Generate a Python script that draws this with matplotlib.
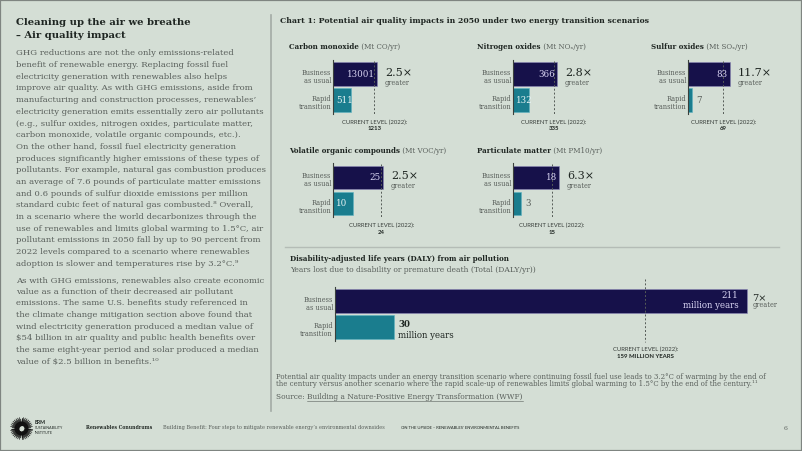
import numpy as np
import matplotlib
matplotlib.use('Agg')
import matplotlib.pyplot as plt
from matplotlib.patches import Rectangle, Circle

# ---- chart data ----
pollutants = ['Carbon monoxide', 'Nitrogen oxides', 'Sulfur oxides',
              'Volatile organic compounds', 'Particulate matter']
units = ['(Mt CO/yr)', '(Mt NOₓ/yr)', '(Mt SOₓ/yr)', '(Mt VOC/yr)', '(Mt PM10/yr)']
business_as_usual = [1301, 366, 83, 25, 18]
bau_labels = ['13001', '366', '83', '25', '18']  # as printed on the slide
rapid_transition = [511, 132, 7, 10, 3]
current_2022 = [1213, 335, 69, 24, 15]
ratios = ['2.5×', '2.8×', '11.7×', '2.5×', '6.3×']
scenarios = ['Business\nas usual', 'Rapid\ntransition']

daly_bau = 211
daly_rapid = 30
daly_current = 159
daly_ratio = '7×'

body_par1 = [
    'GHG reductions are not the only emissions-related',
    'benefit of renewable energy. Replacing fossil fuel',
    'electricity generation with renewables also helps',
    'improve air quality. As with GHG emissions, aside from',
    'manufacturing and construction processes, renewables’',
    'electricity generation emits essentially zero air pollutants',
    '(e.g., sulfur oxides, nitrogen oxides, particulate matter,',
    'carbon monoxide, volatile organic compounds, etc.).',
    'On the other hand, fossil fuel electricity generation',
    'produces significantly higher emissions of these types of',
    'pollutants. For example, natural gas combustion produces',
    'an average of 7.6 pounds of particulate matter emissions',
    'and 0.6 pounds of sulfur dioxide emissions per million',
    'standard cubic feet of natural gas combusted.⁸ Overall,',
    'in a scenario where the world decarbonizes through the',
    'use of renewables and limits global warming to 1.5°C, air',
    'pollutant emissions in 2050 fall by up to 90 percent from',
    '2022 levels compared to a scenario where renewables',
    'adoption is slower and temperatures rise by 3.2°C.⁹',
]
body_par2 = [
    'As with GHG emissions, renewables also create economic',
    'value as a function of their decreased air pollutant',
    'emissions. The same U.S. benefits study referenced in',
    'the climate change mitigation section above found that',
    'wind electricity generation produced a median value of',
    '$54 billion in air quality and public health benefits over',
    'the same eight-year period and solar produced a median',
    'value of $2.5 billion in benefits.¹⁰',
]

BG = '#d4ded5'
NAVY = '#16114a'
TEAL = '#1a7d8e'
DARK = '#1f2622'
GREY = '#595f5b'
SERIF = 'DejaVu Serif'
SANS = 'Lato'

W, H = 802, 451
fig = plt.figure(figsize=(W / 100, H / 100), dpi=100)
fig.patch.set_facecolor(BG)
renderer = fig.canvas.get_renderer()


def fx(x):
    return x / W


def fy(y):
    return 1 - y / H


def text(x, y, s, size, color=DARK, ha='left', weight='normal', family=SERIF):
    return fig.text(fx(x), fy(y), s, fontsize=size, color=color, ha=ha, va='center',
                    fontweight=weight, family=family)


def width_of(t):
    return t.get_window_extent(renderer).width


def fit(s, target, weight='normal', family=SERIF):
    # font size that makes s about target px wide
    t = fig.text(0, 0, s, fontsize=10, fontweight=weight, family=family)
    w = width_of(t)
    t.remove()
    return 10 * target / w


def hline(x0, x1, y, color, lw):
    fig.add_artist(plt.Line2D([fx(x0), fx(x1)], [fy(y), fy(y)], color=color, lw=lw))


def vline(x, y0, y1, color, lw):
    fig.add_artist(plt.Line2D([fx(x), fx(x)], [fy(y0), fy(y1)], color=color, lw=lw))


# frame + dividers
fig.add_artist(Rectangle((0, 0), 1, 1, transform=fig.transFigure, fill=False,
                         edgecolor='#7f8581', lw=1.6))
vline(270.5, 15, 411, '#a3aba5', 1.2)
hline(285, 779, 247, '#b4bcb6', 1.0)

# ---- left column ----
s_title = fit('Cleaning up the air we breathe', 175, weight='bold')
text(16, 22.7, 'Cleaning up the air we breathe', s_title, weight='bold')
text(16, 35, '– Air quality impact', s_title, weight='bold')

s_body = fit(body_par1[5], 249)
for i, line in enumerate(body_par1):
    text(16, 53.3 + 11.7 * i, line, s_body, color=GREY)
for i, line in enumerate(body_par2):
    text(16, 280 + 11.7 * i, line, s_body, color=GREY)

# ---- chart header ----
chart_title = 'Chart 1: Potential air quality impacts in 2050 under two energy transition scenarios'
text(280, 21, chart_title, fit(chart_title, 367, weight='bold'), weight='bold')

s_panel = fit('Carbon monoxide', 70, weight='bold')
s_val = 6.3
s_ratio = 8.0
s_small = 4.7
s_cur = fit('CURRENT LEVEL (2022):', 66, family=SANS)


def title_pair(x, y, bold, rest, size):
    t = text(x, y, bold, size, weight='bold')
    text(x + width_of(t), y, ' ' + rest, size, color=GREY)


def scenario_labels(ax, ys):
    for yc, lab in zip(ys, scenarios):
        first, second = lab.split('\n')
        ax.annotate(first, (0, yc), xytext=(-2, 1), textcoords='offset pixels',
                    ha='right', va='center', fontsize=s_small, color=GREY, family=SERIF)
        ax.annotate(second, (0, yc), xytext=(-2, -7), textcoords='offset pixels',
                    ha='right', va='center', fontsize=s_small, color=GREY, family=SERIF)


def setup_axes(x0, top, axw, xmax):
    ax = fig.add_axes([fx(x0), fy(top + 52), axw / W, 54 / H])
    ax.set_xlim(0, xmax)
    ax.set_ylim(1.538, -0.538)
    ax.patch.set_visible(False)
    for side in ['top', 'right', 'bottom']:
        ax.spines[side].set_visible(False)
    ax.spines['left'].set_color('#3a403c')
    ax.spines['left'].set_linewidth(0.8)
    ax.set_xticks([])
    ax.set_yticks([])
    return ax


def bar_panel(i, x0, top, bau_px):
    bau, rap, cur = business_as_usual[i], rapid_transition[i], current_2022[i]
    axw = 80
    scale = bau_px / bau  # px per unit
    ax = setup_axes(x0, top, axw, axw / scale)
    ax.barh([0, 1], [bau, rap], height=0.92, color=[NAVY, TEAL],
            edgecolor=['#8c88b8', '#5fb4c2'], linewidth=0.4)
    ax.plot([cur, cur], [-0.5, 1.57], ls=(0, (2, 2)), color='#555b57', lw=0.7, clip_on=False)

    ax.annotate(bau_labels[i], (bau, 0), xytext=(-2.5, 0), textcoords='offset pixels',
                ha='right', va='center', fontsize=s_val, color='#d8d4f2', family=SERIF)
    if rap * scale > 14:
        ax.annotate(str(rap), (0, 1), xytext=(2.5, 0), textcoords='offset pixels',
                    ha='left', va='center', fontsize=s_val, color='#e6f3f3', family=SERIF)
    else:
        ax.annotate(str(rap), (rap, 1), xytext=(4, 0), textcoords='offset pixels',
                    ha='left', va='center', fontsize=s_val, color=GREY, family=SERIF)

    ax.annotate(ratios[i], (bau, 0), xytext=(7.5, 1.5), textcoords='offset pixels',
                ha='left', va='center', fontsize=s_ratio, color=DARK, family=SERIF)
    ax.annotate('greater', (bau, 0), xytext=(7.5, -9), textcoords='offset pixels',
                ha='left', va='center', fontsize=s_small, color=GREY, family=SERIF)

    ax.annotate('CURRENT LEVEL (2022):', (cur, 1), xytext=(0, -22), textcoords='offset pixels',
                ha='center', va='center', fontsize=s_cur, color='#3a403c', family=SANS)
    ax.annotate(str(cur), (cur, 1), xytext=(0, -28.5), textcoords='offset pixels',
                ha='center', va='center', fontsize=s_cur, color=DARK, family=SANS,
                fontweight='bold')
    scenario_labels(ax, [0, 1])


panels = [(289.3, 47.3, 333.3, 62.3, 44), (477.3, 47.3, 513.3, 62.3, 44),
          (650.7, 47.3, 688.3, 62.3, 42), (289.3, 151, 333.3, 165.5, 50),
          (477.3, 151, 513.3, 165.5, 46)]
for i, (tx, ty, ax_x, top, bpx) in enumerate(panels):
    title_pair(tx, ty, pollutants[i], units[i], s_panel)
    bar_panel(i, ax_x, top, bpx)

# ---- DALY ----
daly_title = 'Disability-adjusted life years (DALY) from air pollution'
text(290.4, 258.6, daly_title, fit(daly_title, 221, weight='bold'), weight='bold')
daly_sub = 'Years lost due to disability or premature death (Total (DALY/yr))'
text(290.4, 270.4, daly_sub, fit(daly_sub, 250), color=GREY)

axw = 460
ax = setup_axes(335, 289, axw, daly_bau * axw / 411.8)
ax.barh([0, 1], [daly_bau, daly_rapid], height=0.92, color=[NAVY, TEAL],
        edgecolor=['#8c88b8', '#5fb4c2'], linewidth=0.4)
ax.plot([daly_current, daly_current], [-0.85, 1.58], ls=(0, (2, 2)), color='#555b57',
        lw=0.7, clip_on=False)
s_my = fit('million years', 56.7)
ax.annotate(str(daly_bau), (daly_bau, 0), xytext=(-8.5, 5), textcoords='offset pixels',
            ha='right', va='center', fontsize=s_my, color='#d8d4f2', family=SERIF)
ax.annotate('million years', (daly_bau, 0), xytext=(-8.5, -5), textcoords='offset pixels',
            ha='right', va='center', fontsize=s_my, color='#d8d4f2', family=SERIF)
ax.annotate(str(daly_rapid), (daly_rapid, 1), xytext=(4.5, 2.3), textcoords='offset pixels',
            ha='left', va='center', fontsize=s_my, color=DARK, family=SERIF, fontweight='bold')
ax.annotate('million years', (daly_rapid, 1), xytext=(4.5, -8), textcoords='offset pixels',
            ha='left', va='center', fontsize=s_my, color=DARK, family=SERIF)
ax.annotate(daly_ratio, (daly_bau, 0), xytext=(5, 2.7), textcoords='offset pixels',
            ha='left', va='center', fontsize=7.0, color=DARK, family=SERIF)
ax.annotate('greater', (daly_bau, 0), xytext=(5.5, -4.5), textcoords='offset pixels',
            ha='left', va='center', fontsize=s_small, color=GREY, family=SERIF)
ax.annotate('CURRENT LEVEL (2022):', (daly_current, 1), xytext=(0, -22.2),
            textcoords='offset pixels', ha='center', va='center', fontsize=s_cur,
            color='#3a403c', family=SANS)
ax.annotate(f'{daly_current} MILLION YEARS', (daly_current, 1), xytext=(0, -29),
            textcoords='offset pixels', ha='center', va='center', fontsize=s_cur,
            color=DARK, family=SANS, fontweight='bold')
scenario_labels(ax, [0, 1])

# ---- footnote ----
foot1 = ('Potential air quality impacts under an energy transition scenario where continuing '
         'fossil fuel use leads to 3.2°C of warming by the end of')
foot2 = ('the century versus another scenario where the rapid scale-up of renewables limits '
         'global warming to 1.5°C by the end of the century.¹¹')
s_foot = fit(foot1, 492)
text(276, 377, foot1, s_foot, color=GREY)
text(276, 384.5, foot2, s_foot, color=GREY)
t = text(276, 397, 'Source: ', s_foot * 1.05, color=GREY)
x_link = 276 + width_of(t)
t = text(x_link, 397, 'Building a Nature-Positive Energy Transformation (WWF)', s_foot * 1.05,
         color=GREY)
hline(x_link, x_link + width_of(t), 401, GREY, 0.4)

# ---- footer ----
logo = fig.add_axes([fx(10), fy(440), 23 / W, 23 / H])
logo.set_xlim(-1, 1)
logo.set_ylim(-1, 1)
logo.axis('off')
for k, a in enumerate(np.linspace(0, 2 * np.pi, 72, endpoint=False)):
    r1 = 0.95 if k % 2 == 0 else 0.8
    logo.plot([0.3 * np.cos(a), r1 * np.cos(a)], [0.3 * np.sin(a), r1 * np.sin(a)],
              color='#111111', lw=0.5)
logo.add_patch(Circle((0, 0), 0.55, color='#111111'))
logo.add_patch(Circle((0.08, -0.05), 0.2, color=BG))

text(34.5, 422, 'ERM', 3.8, weight='bold', family=SANS)
text(34.5, 428, 'SUSTAINABILITY', 2.6, family=SANS)
text(34.5, 433, 'INSTITUTE', 2.6, family=SANS)
text(86, 427.7, 'Renewables Conundrums', fit('Renewables Conundrums', 66, weight='bold'),
     weight='bold')
foot_mid = 'Building Benefit: Four steps to mitigate renewable energy’s environmental downsides'
text(162.7, 427.7, foot_mid, fit(foot_mid, 221), color=GREY)
foot_sec = 'ON THE UPSIDE – RENEWABLES’ ENVIRONMENTAL BENEFITS'
text(400.7, 427.7, foot_sec, fit(foot_sec, 120, family=SANS), family=SANS)
text(784, 429, '6', 4.5, color=GREY)

fig.savefig('out.png', dpi=100, facecolor=BG)
